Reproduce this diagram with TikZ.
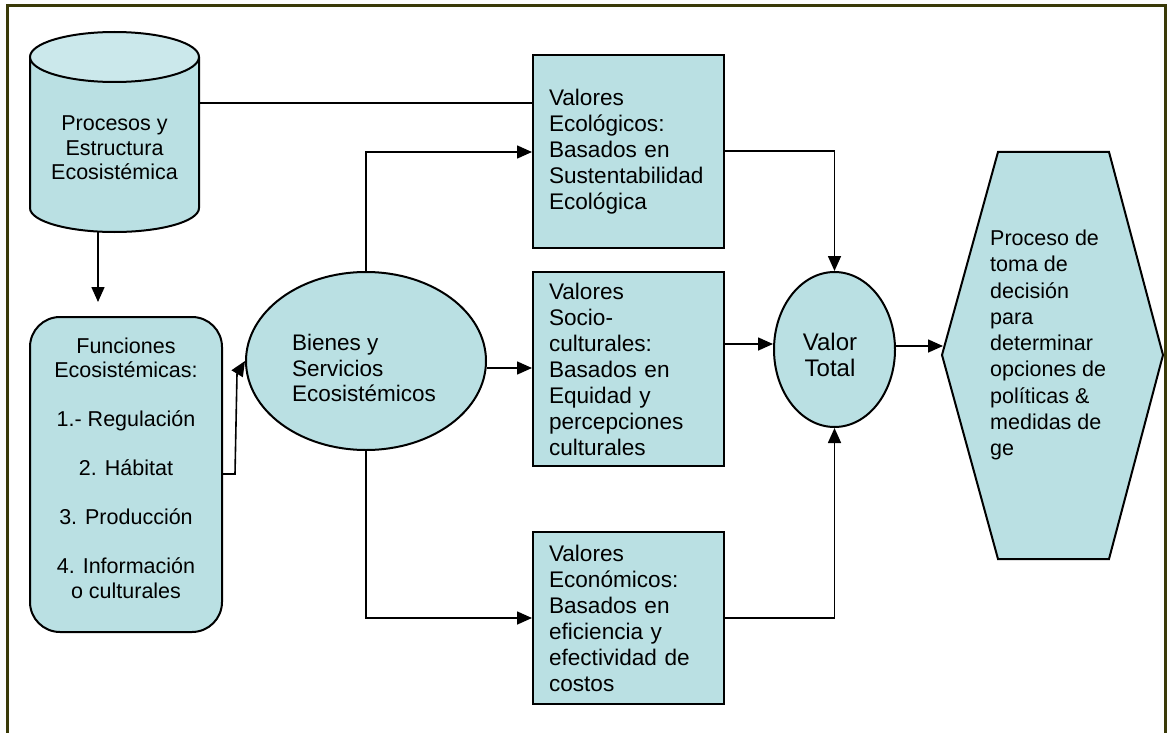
\documentclass[tikz,border=0pt]{standalone}
\usepackage{fontspec}
\setmainfont{Liberation Sans}
\usetikzlibrary{shapes.geometric,arrows.meta,calc}
\definecolor{fillc}{RGB}{186,224,227}
\definecolor{capc}{RGB}{203,232,235}
\definecolor{framec}{RGB}{58,58,8}
\begin{document}
\begin{tikzpicture}[x=1pt,y=-1pt,
  outl/.style={draw=black, line width=2pt},
  shapebox/.style={outl, fill=fillc, inner sep=0pt},
  conn/.style={line width=1.6pt},
  arr/.style={conn,-{Triangle[length=15pt,width=13pt]}},
  tA/.style={font=\fontsize{21.5}{24.5}\selectfont, inner sep=0pt},
  tB/.style={font=\fontsize{22.6}{26}\selectfont, inner sep=0pt},
  valbox/.style={shapebox, tB, minimum width=191pt, text width=159pt, align=left}
]
\useasboundingbox (0,0) rectangle (1167,733);
% frame
\draw[framec, line width=3pt] (7.5,733) -- (7.5,6) -- (1165.5,6) -- (1165.5,733);

% cylinder
\path[fill=fillc] (30,57) -- (30,208) arc[start angle=180,end angle=0,x radius=84.5,y radius=24] -- (199,57) -- cycle;
\draw[outl] (30,57) -- (30,208) arc[start angle=180,end angle=0,x radius=84.5,y radius=24] -- (199,57);
\draw[outl, fill=capc] (114.5,57) ellipse[x radius=84.5, y radius=25];
\node[tA, align=center] (cyl) at (114.5,148) {Procesos y\\Estructura\\Ecosistémica};
\coordinate (cylR) at (199,103);
\coordinate (cylB) at (98,232);

% Funciones
\node[shapebox, rounded corners=30pt, minimum width=192pt, minimum height=315pt] (fun) at (126,474.5) {};
\node[tA, align=center] (funt) at (126,468) {Funciones\\Ecosistémicas:\\[24.5pt]1.- Regulación\\[24.5pt]2. Hábitat\\[24.5pt]3. Producción\\[24.5pt]4. Información\\o culturales};

% Bienes
\node[shapebox, ellipse, minimum width=240pt, minimum height=178pt] (bs) at (366,361) {};
\node[tB, align=left, font=\fontsize{22.5}{25.5}\selectfont] (bst) at (364,368) {Bienes y\\Servicios\\Ecosistémicos};

% Value boxes
\node[valbox, minimum height=193pt] (eco) at (628.5,151.5) {Valores\\Ecológicos:\\Basados en\\Sustentabilidad\\Ecológica};
\node[valbox, minimum height=194pt] (soc) at (628.5,369) {Valores\\Socio-\\culturales:\\Basados en\\Equidad y\\percepciones\\culturales};
\node[valbox, minimum height=172pt] (econ) at (628.5,618) {Valores\\Económicos:\\Basados en\\eficiencia y\\efectividad de\\costos};

% Valor Total
\node[shapebox, ellipse, minimum width=121pt, minimum height=155pt] (vt) at (834.5,349.5) {};
\node[tB, align=center, font=\fontsize{24}{26}\selectfont] (vtt) at (830,355) {Valor\\Total};

% Hexagon
\draw[outl, fill=fillc] (998,152) -- (1109,152) -- (1163,355) -- (1109,559) -- (998,559) -- (942,355) -- cycle;
\node[tB, align=left, anchor=west, font=\fontsize{21.5}{26.25}\selectfont] (hext) at (990,345) {Proceso de\\toma de\\decisión\\para\\determinar\\opciones de\\políticas \&\\medidas de\\ge};
\coordinate (hexIn) at (943,346);

% connectors
\draw[arr, shorten >=14pt] (cylB) -- (cylB |- fun.north);
\draw[conn] (cylR) -- (eco.west |- cylR);
\draw[arr] (fun.east |- 0,474) -- (235,474) -- (237,374) -- (bs.west);
\draw[arr] (bs.north) |- (eco.west |- 0,152);
\draw[arr] (bs.east |- 0,368) -- (soc.west |- 0,368);
\draw[arr] (bs.south) |- (econ.west |- 0,618);
\draw[arr] (eco.east |- 0,151) -| (vt.north);
\draw[arr] (soc.east |- 0,344) -- (vt.west |- 0,344);
\draw[arr] (econ.east) -| (vt.south);
\draw[arr] (vt.east |- hexIn) -- (hexIn);
\end{tikzpicture}
\end{document}
